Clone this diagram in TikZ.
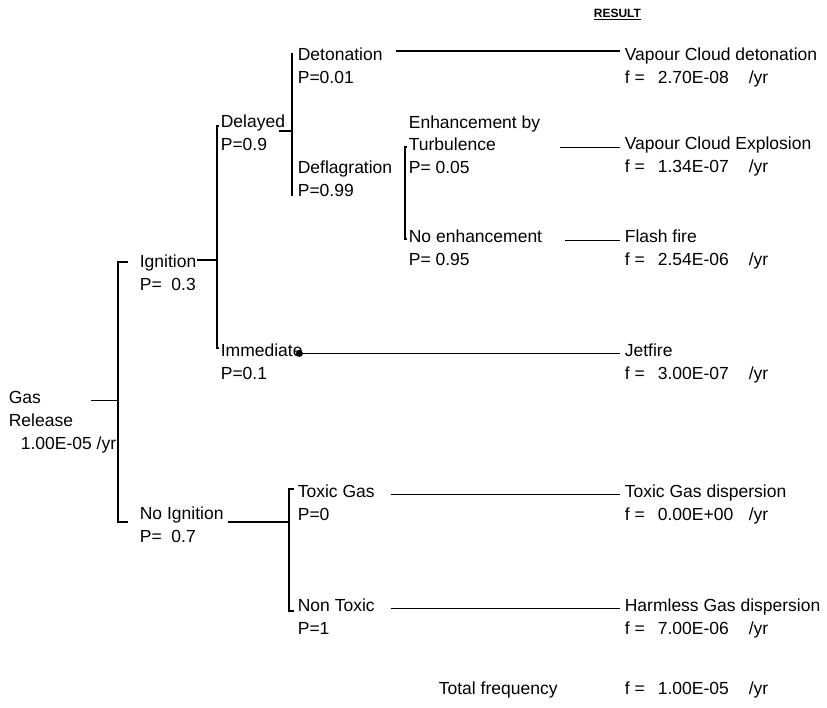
\documentclass[tikz,border=0pt]{standalone}
\usepackage{fontspec}
\setmainfont{Liberation Sans}
\newcommand{\fline}[1]{\makebox[33pt][l]{f =}\makebox[91pt][l]{#1}/yr}

\begin{document}
\begin{tikzpicture}[x=1pt,y=-1pt,line width=1.7pt,
  font=\fontsize{17.5}{21}\selectfont,
  lbl/.style={anchor=base west,inner sep=0pt,text height=0.72em,text depth=0.21em}]
  \useasboundingbox (0,0) rectangle (827,708);
  \node[lbl,font=\bfseries\fontsize{12}{14}\selectfont] (res) at (593,18) {\underline{RESULT}};
  % initiating event
  \node[lbl] (gas) at (8,403) {Gas};
  \node[lbl] (rel) at (8,426) {Release};
  \node[lbl] (gasf) at (20,449) {1.00E-05 /yr};
  % branches
  \foreach \n/\x/\y/\t/\p in {ign/139/268/Ignition/P=~~0.3, noign/139/519/No Ignition/P=~~0.7,
      del/220/128/Delayed/P=0.9, imm/220/356/Immediate/P=0.1,
      det/297/61/Detonation/P=0.01, def/297/174/Deflagration/P=0.99,
      turb/408/151/Turbulence/P= 0.05, nenh/408/243/No enhancement/P= 0.95,
      tox/297/497/Toxic Gas/P=0, ntox/297/611/Non Toxic/P=1} {
    \node[lbl] (\n) at (\x,\y) {\t};
    \node[lbl] (\n p) at (\x,\y+23) {\p};
  }
  \node[lbl] (enh) at (408,129) {Enhancement by};
  % outcomes
  \foreach \n/\y/\t/\f in {vcd/61/Vapour Cloud detonation/2.70E-08,
      vce/150/Vapour Cloud Explosion/1.34E-07, ff/243/Flash fire/2.54E-06,
      jet/356/Jetfire/3.00E-07, tgd/497/Toxic Gas dispersion/0.00E+00,
      hgd/611/Harmless Gas dispersion/7.00E-06} {
    \node[lbl] (\n) at (624,\y) {\t};
    \node[lbl] (\n f) at (624,\y+23) {\fline{\f}};
  }
  \node[lbl] (tot) at (438,694) {Total frequency};
  \node[lbl] (totf) at (624,694) {\fline{1.00E-05}};

  % tree
  \coordinate (rb) at ([xshift=-21pt]ign.west);
  \coordinate (ib) at ([xshift=-3pt]del.west);
  \coordinate (db) at ([xshift=-5pt]det.west);
  \coordinate (nb) at ([xshift=-8pt]tox.west);
  \draw ([xshift=49pt]gas.east) -- (gas.east -| rb);
  \draw ([xshift=-11pt,yshift=-2pt]ign.north west) -| ([xshift=-21pt]noign.south west)
    -- ([xshift=-11pt]noign.south west);
  \draw (ign.north east) -- (ign.north east -| ib);
  \draw ([xshift=-1pt,yshift=-6pt]del.north west) -| ([xshift=-3pt]imm.north west)
    -- ([xshift=-1pt]imm.north west);
  \draw ([xshift=-7pt]del.south east) -- (del.south east -| db);
  \draw ([xshift=-5pt]det.north west) -- ([xshift=-5pt,yshift=4pt]defp.south west);
  \draw ([xshift=-1pt,yshift=-4pt]turb.north west) -| ([xshift=-3pt,yshift=-4pt]nenh.north west)
    -- ([xshift=-1pt,yshift=-4pt]nenh.north west);
  \draw ([xshift=4pt]noign.south east) -- (noign.south east -| nb);
  \draw ([xshift=-3pt]tox.north west) -| ([xshift=-8pt,yshift=3pt]ntox.south west)
    -- ([xshift=-3pt,yshift=3pt]ntox.south west);

  % to outcomes
  \draw ([xshift=13pt,yshift=2pt]det.north east) -- ([xshift=-4pt,yshift=2pt]vcd.north west);
  \draw ([xshift=-64pt]vce.west) -- ([xshift=-4pt]vce.west);
  \draw ([xshift=-59pt]ff.west) -- ([xshift=-4pt]ff.west);
  \fill ([xshift=-4pt]imm.east) circle (3.5pt);
  \draw ([xshift=-4pt]imm.east) -- ([xshift=-4pt]jet.west);
  \draw ([xshift=15pt]tox.east) -- ([xshift=-4pt]tgd.west);
  \draw ([xshift=15pt]ntox.east) -- ([xshift=-4pt]hgd.west);
\end{tikzpicture}
\end{document}
